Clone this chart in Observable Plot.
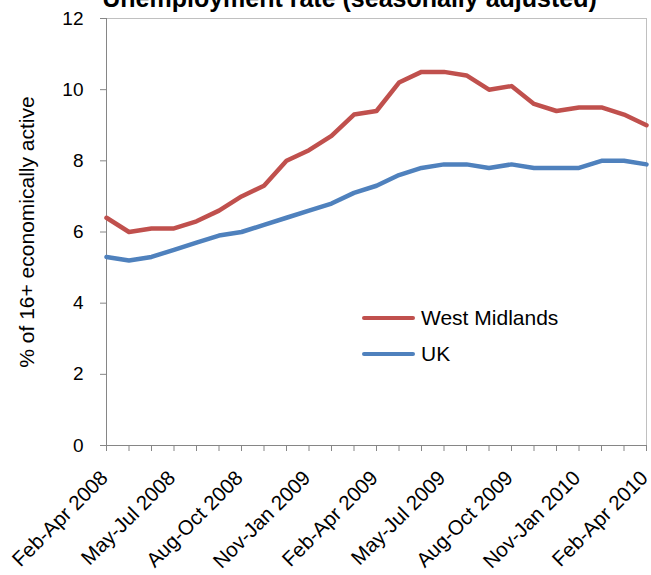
<!DOCTYPE html>
<html>
<head>
<meta charset="utf-8">
<script src="https://cdn.jsdelivr.net/npm/d3@7"></script>
<script src="https://cdn.jsdelivr.net/npm/@observablehq/plot@0.6"></script>
<style>
  html, body { margin: 0; padding: 0; background: #fff; }
  #chart { position: relative; width: 651px; height: 575px; overflow: hidden;
           font-family: Arial, "Liberation Sans", sans-serif; }
  .legend-row { position: absolute; display: flex; align-items: center; height: 24px;
                font-size: 21px; color: #000; white-space: nowrap; }
  .legend-row .swatch { display: inline-block; width: 53px; height: 4.5px; margin-right: 6px; border-radius: 2px; }
</style>
</head>
<body>
<div id="chart"></div>
<script>
// Rolling three-month periods, Feb-Apr 2008 to Feb-Apr 2010
const periods = [
  "Feb-Apr 2008", "Mar-May 2008", "Apr-Jun 2008", "May-Jul 2008", "Jun-Aug 2008",
  "Jul-Sep 2008", "Aug-Oct 2008", "Sep-Nov 2008", "Oct-Dec 2008", "Nov-Jan 2009",
  "Dec-Feb 2009", "Jan-Mar 2009", "Feb-Apr 2009", "Mar-May 2009", "Apr-Jun 2009",
  "May-Jul 2009", "Jun-Aug 2009", "Jul-Sep 2009", "Aug-Oct 2009", "Sep-Nov 2009",
  "Oct-Dec 2009", "Nov-Jan 2010", "Dec-Feb 2010", "Jan-Mar 2010", "Feb-Apr 2010"
];

// Unemployment rate, % of 16+ economically active
const westMidlands = [6.4, 6.0, 6.1, 6.1, 6.3, 6.6, 7.0, 7.3, 8.0, 8.3, 8.7, 9.3, 9.4,
                      10.2, 10.5, 10.5, 10.4, 10.0, 10.1, 9.6, 9.4, 9.5, 9.5, 9.3, 9.0];
const uk = [5.3, 5.2, 5.3, 5.5, 5.7, 5.9, 6.0, 6.2, 6.4, 6.6, 6.8, 7.1, 7.3,
            7.6, 7.8, 7.9, 7.9, 7.8, 7.9, 7.8, 7.8, 7.8, 8.0, 8.0, 7.9];

// Labelled periods on the x axis (every third one)
const tickLabels = ["Feb-Apr 2008", "May-Jul 2008", "Aug-Oct 2008", "Nov-Jan 2009", "Feb-Apr 2009",
                    "May-Jul 2009", "Aug-Oct 2009", "Nov-Jan 2010", "Feb-Apr 2010"];
const yTicks = [0, 2, 4, 6, 8, 10, 12];

const seriesNames = ["West Midlands", "UK"];
const seriesColors = ["#C0504D", "#4F81BD"];
const title = "Unemployment rate (seasonally adjusted)";
const yLabel = "% of 16+ economically active";

const rows = periods.flatMap((period, i) => [
  {period, series: seriesNames[0], value: westMidlands[i]},
  {period, series: seriesNames[1], value: uk[i]}
]);

const axisGrey = "#868686";

const chart = Plot.plot({
  width: 651,
  height: 575,
  marginLeft: 106,
  marginRight: 5,
  marginTop: 18,
  marginBottom: 130,
  style: {fontFamily: "Arial, 'Liberation Sans', sans-serif", fontSize: "19px", color: "#000", background: "#fff"},
  // first and last period sit exactly on the plot edges, evenly spaced
  x: {type: "point", domain: periods, padding: 0, round: false},
  y: {domain: [0, 12]},
  color: {domain: seriesNames, range: seriesColors},
  marks: [
    Plot.frame({stroke: "#c0c0c0"}),
    Plot.ruleX([periods[0]], {stroke: axisGrey}),
    Plot.ruleY([0], {stroke: axisGrey}),
    Plot.axisY({ticks: yTicks, tickSize: 6, tickPadding: 17, label: null, stroke: axisGrey, fontSize: 19}),
    Plot.axisX({ticks: periods, tickSize: 6, text: null, label: null, stroke: axisGrey}),
    Plot.axisX({ticks: tickLabels, tickSize: 0, tickRotate: -45, tickPadding: 29, dx: -2, label: null, fontSize: 20.5}),
    Plot.line(rows, {x: "period", y: "value", z: "series", stroke: "series",
                     strokeWidth: 4.5, strokeLinejoin: "round", strokeLinecap: "round"}),
    Plot.text([yLabel], {frameAnchor: "left", textAnchor: "middle", rotate: -90, dx: -79, fontSize: 21}),
    Plot.text([title], {frameAnchor: "top-left", textAnchor: "middle", dx: 243, dy: -12, lineAnchor: "bottom",
                        fontSize: 25, fontWeight: "bold"})
  ]
});

const container = document.getElementById("chart");
container.appendChild(chart);

// Legend placed inside the plot area
const legendLeft = 362;
const legendTops = [306, 342];
seriesNames.forEach((name, i) => {
  const row = document.createElement("div");
  row.className = "legend-row";
  row.style.left = legendLeft + "px";
  row.style.top = legendTops[i] + "px";
  const sw = document.createElement("span");
  sw.className = "swatch";
  sw.style.background = seriesColors[i];
  row.appendChild(sw);
  row.appendChild(document.createTextNode(name));
  container.appendChild(row);
});
</script>
</body>
</html>
